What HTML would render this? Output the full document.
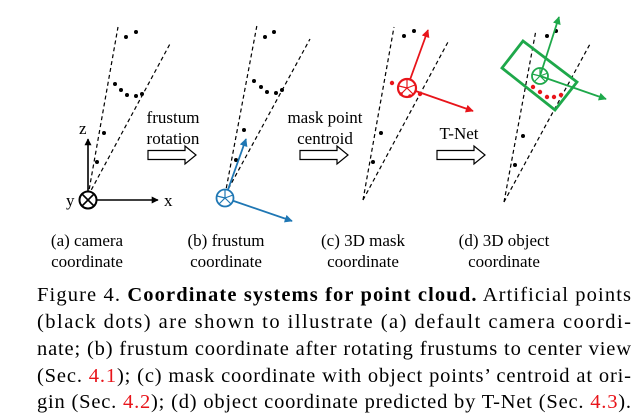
<!DOCTYPE html>
<html><head><meta charset="utf-8"><style>
html,body{margin:0;padding:0;background:#fff;}
svg{display:block;}
text{font-family:"Liberation Serif","Times New Roman",serif;}
</style></head><body>
<svg width="644" height="417" viewBox="0 0 644 417" xmlns="http://www.w3.org/2000/svg" font-family="Liberation Serif, serif">
<defs>
<marker id="ak" viewBox="0 0 10 10" refX="9" refY="5" markerWidth="7" markerHeight="7" orient="auto" markerUnits="userSpaceOnUse"><path d="M0,0L10,5L0,10z" fill="#000"/></marker>
<marker id="ab" viewBox="0 0 10 10" refX="9" refY="5" markerWidth="8" markerHeight="8" orient="auto" markerUnits="userSpaceOnUse"><path d="M0,0L10,5L0,10z" fill="#1f77b4"/></marker>
<marker id="ar" viewBox="0 0 10 10" refX="9" refY="5" markerWidth="8" markerHeight="8" orient="auto" markerUnits="userSpaceOnUse"><path d="M0,0L10,5L0,10z" fill="#e8141a"/></marker>
<marker id="ag" viewBox="0 0 10 10" refX="9" refY="5" markerWidth="8" markerHeight="8" orient="auto" markerUnits="userSpaceOnUse"><path d="M0,0L10,5L0,10z" fill="#1ea84a"/></marker>
</defs>
<g stroke="#000" stroke-width="1.2" stroke-dasharray="4,3" fill="none">
<line x1="88" y1="196" x2="118" y2="27"/><line x1="88" y1="196" x2="171" y2="42"/>
<line x1="225" y1="195" x2="257" y2="25"/><line x1="225" y1="195" x2="310" y2="39"/>
<line x1="363" y1="200" x2="394" y2="27"/><line x1="363" y1="200" x2="448" y2="42"/>
<line x1="504" y1="202" x2="536" y2="30"/><line x1="504" y1="202" x2="590" y2="44"/>
</g>
<g fill="#000">
<circle cx="126" cy="37" r="2"/><circle cx="136" cy="32" r="2"/><circle cx="115" cy="84" r="2"/><circle cx="121" cy="90" r="2"/><circle cx="127" cy="95" r="2"/><circle cx="136" cy="96" r="2"/><circle cx="142" cy="94" r="2"/><circle cx="104" cy="133" r="2"/><circle cx="97" cy="162" r="2"/>
<circle cx="265" cy="37" r="2"/><circle cx="274" cy="32" r="2"/><circle cx="254" cy="81" r="2"/><circle cx="261" cy="87" r="2"/><circle cx="267" cy="92" r="2"/><circle cx="276" cy="93" r="2"/><circle cx="282" cy="90" r="2"/><circle cx="244" cy="130" r="2"/><circle cx="236" cy="160" r="2"/>
<circle cx="404" cy="36" r="2"/><circle cx="414" cy="31" r="2"/><circle cx="381" cy="133" r="2"/><circle cx="373" cy="162" r="2"/>
<circle cx="547" cy="36" r="2"/><circle cx="556" cy="31" r="2"/><circle cx="523" cy="136" r="2"/><circle cx="515" cy="165" r="2"/>
</g>
<g stroke="#000" stroke-width="1.6" fill="none">
<line x1="88" y1="200" x2="88" y2="139" marker-end="url(#ak)"/>
<line x1="88" y1="200" x2="158" y2="200" marker-end="url(#ak)"/>
<circle cx="88" cy="200" r="8.5" fill="#fff" stroke-width="2"/>
<line x1="82" y1="194" x2="94" y2="206"/><line x1="94" y1="194" x2="82" y2="206"/>
</g>
<g font-size="17"><text x="79" y="134">z</text><text x="164" y="206">x</text><text x="66" y="206">y</text></g>
<g stroke="#1f77b4" stroke-width="1.8" fill="none">
<line x1="225" y1="198" x2="246" y2="139" marker-end="url(#ab)"/>
<line x1="225" y1="198" x2="292" y2="221" marker-end="url(#ab)"/>
<circle cx="225" cy="198" r="8.5" fill="#fff"/>
<path d="M225,198L225,189.5M225,198L217,196M225,198L231,204M225,198L219,204M225,198L233,195" stroke-width="1.2"/>
</g>
<g stroke="#e8141a" stroke-width="1.8" fill="none">
<line x1="407" y1="88" x2="428" y2="30" marker-end="url(#ar)"/>
<line x1="407" y1="88" x2="473" y2="111" marker-end="url(#ar)"/>
<circle cx="407" cy="88" r="9" fill="#fff" stroke-width="2.2"/>
<path d="M407,88L407,79M407,88L399,86M407,88L413,94M407,88L401,94M407,88L415,85" stroke-width="1.2"/>
</g>
<g fill="#e8141a"><circle cx="392" cy="83" r="2.2"/><circle cx="420" cy="94" r="2.2"/><circle cx="410" cy="96" r="1.8"/><circle cx="401" cy="94" r="1.8"/></g>
<g stroke="#1ea84a" stroke-width="2.8" fill="none">
<polygon points="523,41 577,82 555,110 502,68"/>
</g>
<g stroke="#1ea84a" stroke-width="1.8" fill="none">
<line x1="540" y1="76" x2="559" y2="17" marker-end="url(#ag)"/>
<line x1="540" y1="76" x2="606" y2="99" marker-end="url(#ag)"/>
<circle cx="540" cy="76" r="8" fill="none"/>
<path d="M540,76L540,68M540,76L532,74M540,76L546,82M540,76L534,82M540,76L548,73" stroke-width="1.2"/>
</g>
<g fill="#e8141a"><circle cx="533" cy="87" r="2.2"/><circle cx="540" cy="92" r="2.2"/><circle cx="547" cy="97" r="2.2"/><circle cx="554" cy="97" r="2.2"/><circle cx="561" cy="95" r="2.2"/></g>
<g fill="#fff" stroke="#000" stroke-width="1.2">
<path d="M148,150.5H185V146L196,155L185,164V159.5H148Z"/>
<path d="M300,150.5H337V146L348,155L337,164V159.5H300Z"/>
<path d="M437,150.5H474V146L485,155L474,164V159.5H437Z"/>
</g>
<g font-size="17" text-anchor="middle">
<text x="173" y="123">frustum</text><text x="173" y="144">rotation</text>
<text x="325" y="123">mask point</text><text x="325" y="144">centroid</text>
<text x="459" y="139">T-Net</text>
<text x="87" y="246">(a) camera</text><text x="87" y="267">coordinate</text>
<text x="226" y="246">(b) frustum</text><text x="226" y="267">coordinate</text>
<text x="363" y="246">(c) 3D mask</text><text x="363" y="267">coordinate</text>
<text x="504" y="246">(d) 3D object</text><text x="504" y="267">coordinate</text>
</g>
<g font-size="20.5">
<text x="37" y="301" textLength="594" lengthAdjust="spacing">Figure 4. <tspan font-weight="bold">Coordinate systems for point cloud.</tspan> Artificial points</text>
<text x="37" y="328" textLength="594" lengthAdjust="spacing">(black dots) are shown to illustrate (a) default camera coordi-</text>
<text x="37" y="355" textLength="594" lengthAdjust="spacing">nate; (b) frustum coordinate after rotating frustums to center view</text>
<text x="37" y="382" textLength="594" lengthAdjust="spacing">(Sec. <tspan fill="#e8141a">4.1</tspan>); (c) mask coordinate with object points’ centroid at ori-</text>
<text x="37" y="408" textLength="594" lengthAdjust="spacing">gin (Sec. <tspan fill="#e8141a">4.2</tspan>); (d) object coordinate predicted by T-Net (Sec. <tspan fill="#e8141a">4.3</tspan>).</text>
</g>
</svg>
</body></html>
